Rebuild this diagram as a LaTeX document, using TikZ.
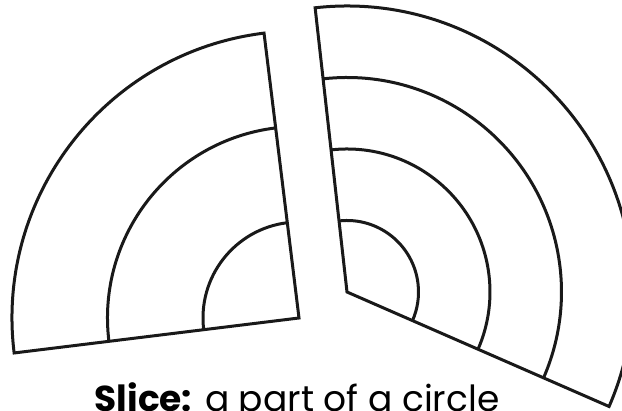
\documentclass[tikz,border=0pt]{standalone}
\usepackage{fontspec}
\setmainfont{Poppins}
\begin{document}
\begin{tikzpicture}[x=1pt,y=1pt,
  sector/.style={draw=black!90, line width=3pt},
  label/.style={font=\fontsize{36}{40}\selectfont, anchor=base, inner sep=0pt}]
\clip (0,0) rectangle (622,411);
\useasboundingbox (0,0) rectangle (622,411);
% left slice
\coordinate (L) at (299,93);
\draw[sector] (L) -- ++(97:287) arc (97:187:287) -- cycle;
\foreach \r in {96,191.5}{
  \draw[sector] ([shift={(97:\r)}]L) arc (97:187:\r);
}
% right slice
\coordinate (R) at (347,119);
\draw[sector] (R) -- ++(96.4:286) arc (96.4:-23.6:286) -- cycle;
\foreach \r in {71.5,143,214.5}{
  \draw[sector] ([shift={(96.4:\r)}]R) arc (96.4:-23.6:\r);
}
\node[label] (cap) at (297,-1) {\textbf{Slice:} a part of a circle};
\end{tikzpicture}
\end{document}
